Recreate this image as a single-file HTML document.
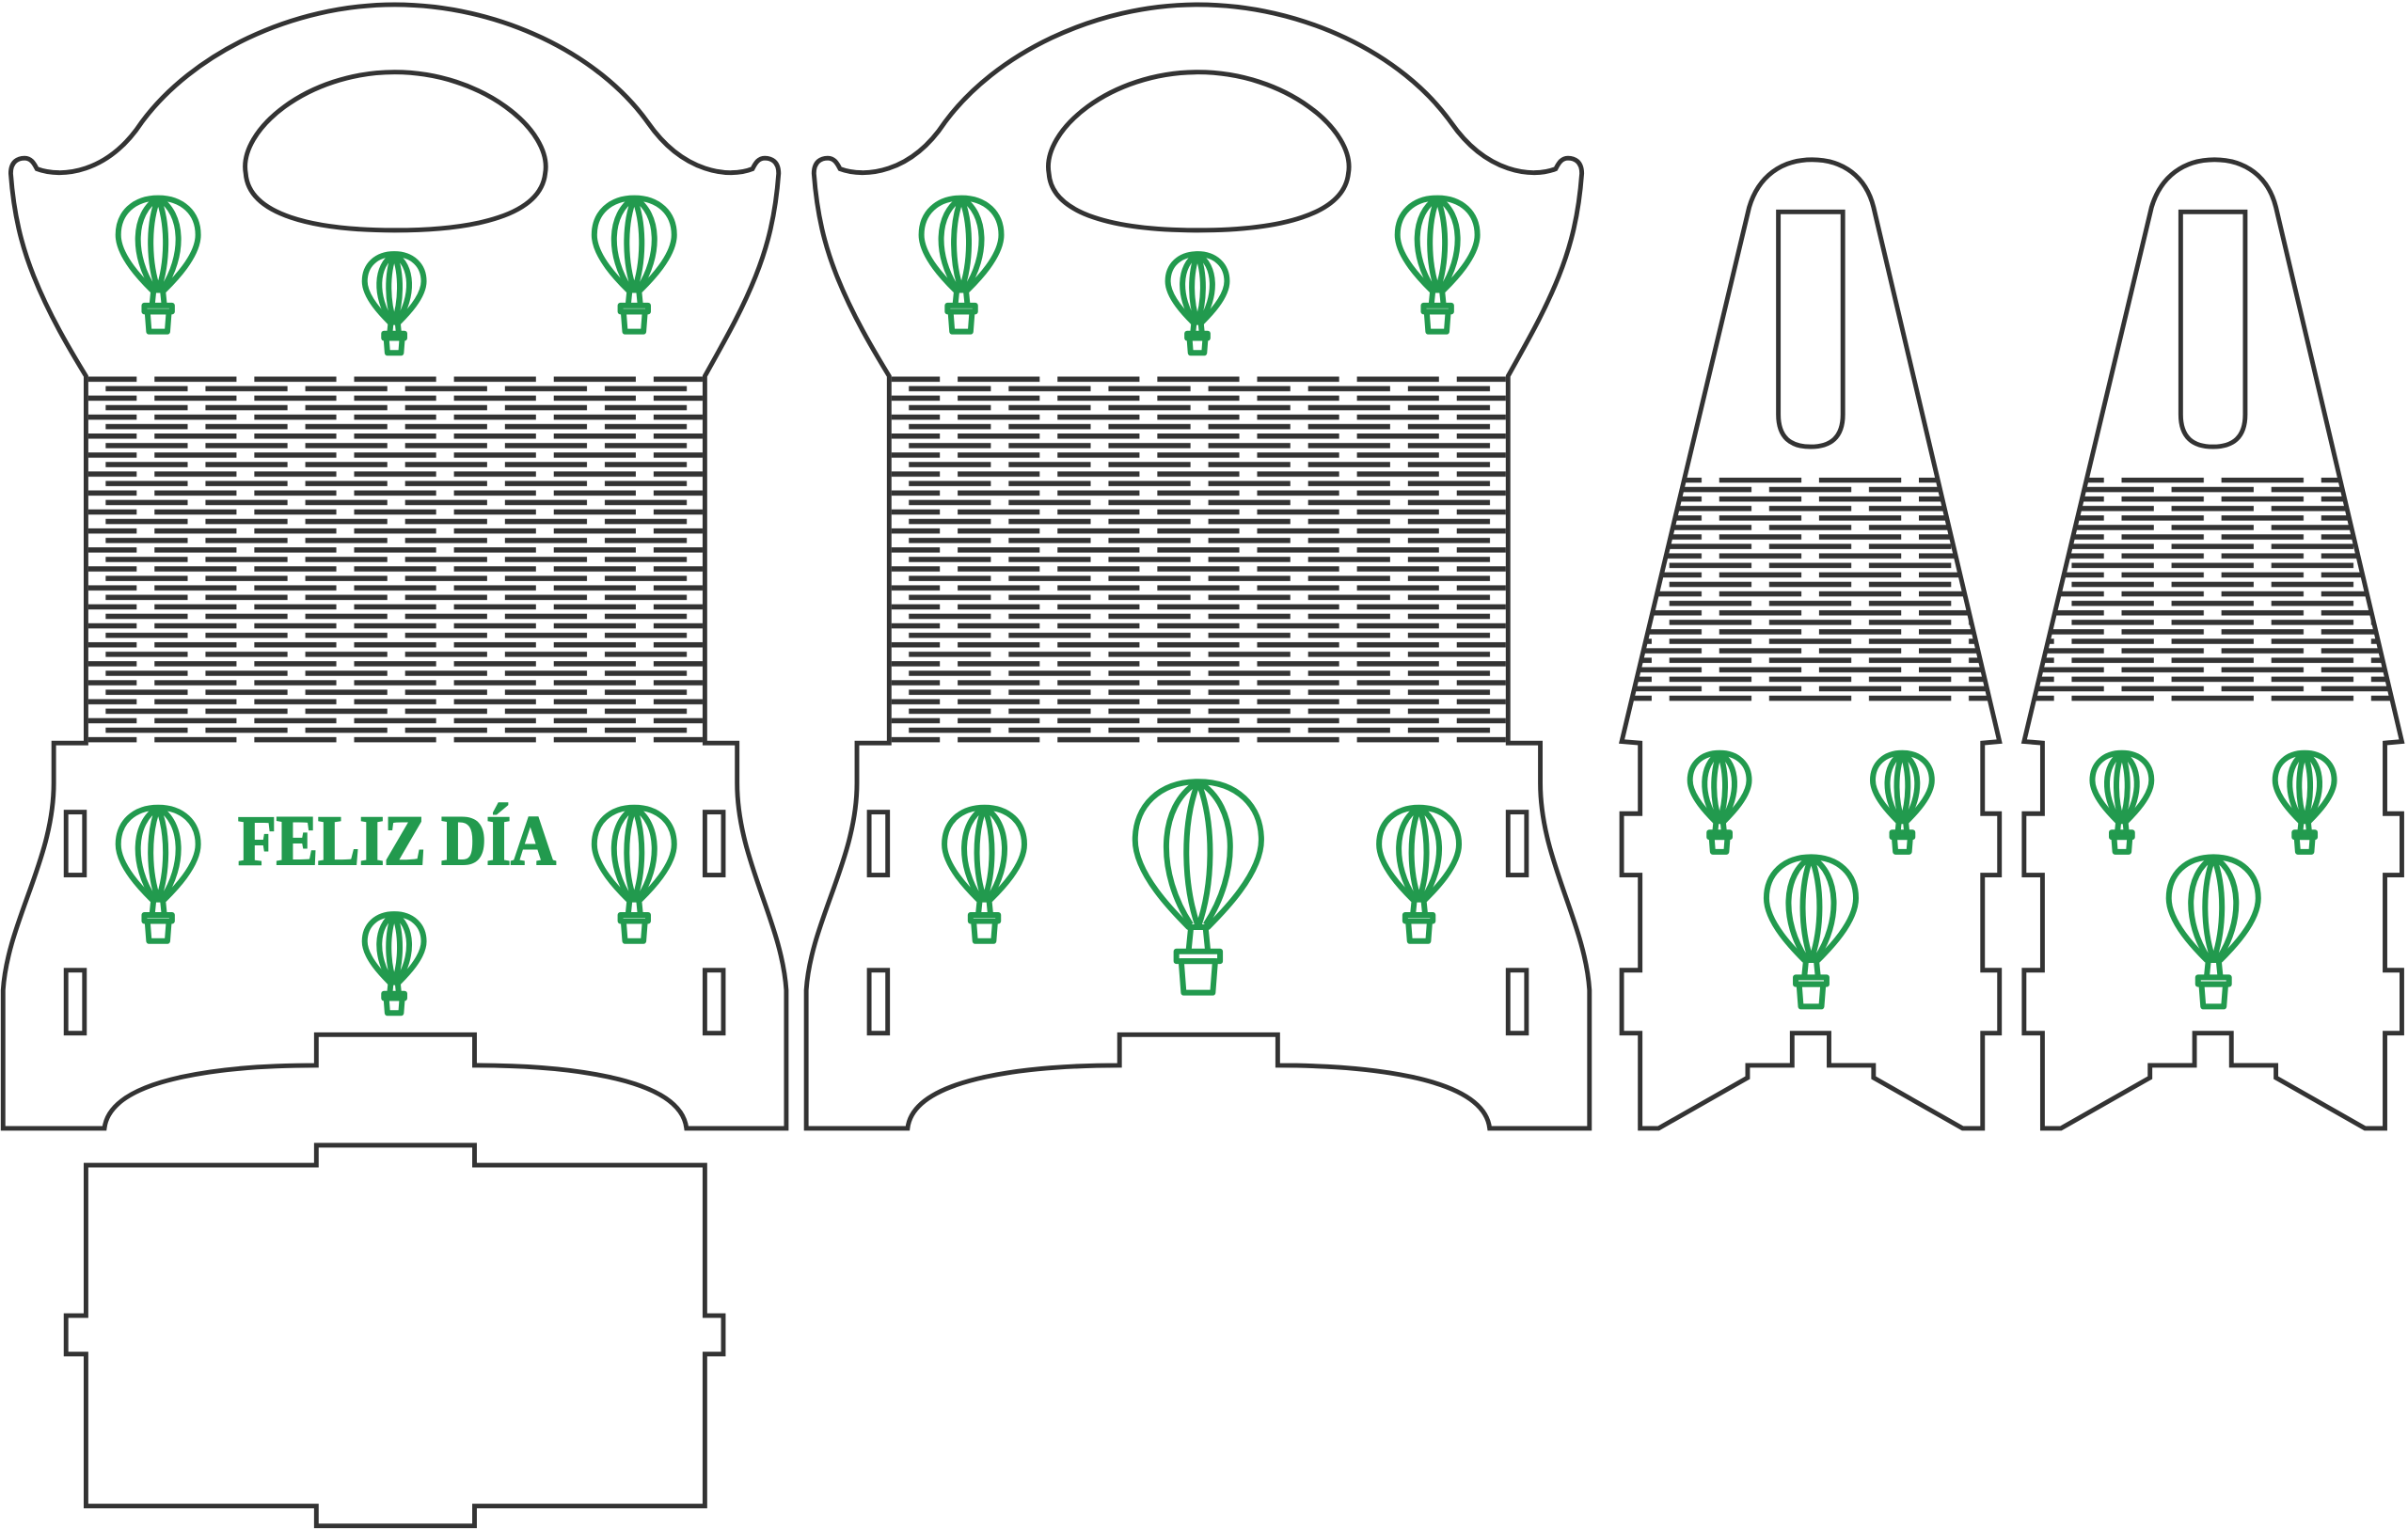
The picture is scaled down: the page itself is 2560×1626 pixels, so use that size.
<!DOCTYPE html>
<html><head><meta charset="utf-8"><style>
html,body{margin:0;padding:0;background:#fff;}
svg{display:block;}
</style></head><body>
<svg width="2560" height="1626" viewBox="0 0 1568 996" preserveAspectRatio="none" xmlns="http://www.w3.org/2000/svg">
<defs>
  <pattern id="sl1" patternUnits="userSpaceOnUse" x="100.6" y="245.3" width="65" height="12.36">
    <rect x="0" y="0" width="53.4" height="3.4" fill="#333"/>
    <rect x="33.2" y="6.18" width="31.8" height="3.4" fill="#333"/>
    <rect x="0" y="6.18" width="21.6" height="3.4" fill="#333"/>
  </pattern>
  <pattern id="sl3" patternUnits="userSpaceOnUse" x="1119.5" y="311" width="65" height="12.36">
    <rect x="0" y="0" width="53.5" height="3.4" fill="#333"/>
    <rect x="32.5" y="6.18" width="32.5" height="3.4" fill="#333"/>
    <rect x="0" y="6.18" width="21" height="3.4" fill="#333"/>
  </pattern>
  <clipPath id="trap"><polygon points="1097,311 1261.5,311 1296,457 1062,457"/></clipPath>
  <g id="bal" fill="none" stroke="#229a4e" stroke-width="6" stroke-linejoin="round">
    <path vector-effect="non-scaling-stroke" d="M28,2 C12,2 2,12 2,26 C2,40 18,56 24,62 L32,62 C38,56 54,40 54,26 C54,12 44,2 28,2 Z"/>
    <path vector-effect="non-scaling-stroke" d="M28,2 C21,20 22,45 28,62 M28,2 C35,20 34,45 28,62 M28,2 C11,12 11,40 25,61 M28,2 C45,12 45,40 31,61"/>
    <path vector-effect="non-scaling-stroke" d="M25,62 L24,72 M31,62 L32,72"/>
    <rect vector-effect="non-scaling-stroke" x="19" y="72" width="18" height="4"/>
    <path vector-effect="non-scaling-stroke" d="M21,76 L35,76 L34,89 L22,89 Z"/>
  </g>
  <g id="bigpanel" fill="none" stroke="#333" stroke-width="3">
    <path d="M2,735 L2,645 C5,600 35,560 35,510 L35,484 L56,484 L56,245 C45,227 32,205 22,180 C14,160 9,140 7,113 C7,105 12,103 16,103 C20,103 22,106 24,110 C40,116 70,113 92,80 C125,35 190,3 257,3 C325,3 390,35 422,80 C445,113 475,116 490,110 C492,106 494,103 498,103 C502,103 507,105 507,113 C505,140 500,160 492,180 C482,205 470,225 459,245 L459,484 L480,484 L480,510 C480,560 509,600 512,645 L512,735 L447,735 C443,700 360,694 309,694 L309,674 L206,674 L206,694 C155,694 72,700 68,735 Z"/>
    <path d="M160,113 C155,85 200,47 257,47 C314,47 360,85 355,113 C352,140 310,150 257,150 C204,150 162,140 160,113 Z"/>
    <rect x="43" y="529" width="12" height="41"/>
    <rect x="43" y="632" width="12" height="41"/>
    <rect x="459" y="529" width="12" height="41"/>
    <rect x="459" y="632" width="12" height="41"/>
    <rect x="57.5" y="245.3" width="400" height="238.7" fill="url(#sl1)" stroke="none"/>
  </g>
  <g id="narrow" fill="none" stroke="#333" stroke-width="3">
    <path d="M1139,135 C1145,115 1160,104 1180,104 C1200,104 1215,115 1220,135 L1302,483 L1291,484 L1291,530 L1302,530 L1302,570 L1291,570 L1291,632 L1302,632 L1302,673 L1291,673 L1291,735 L1278,735 L1220,702 L1220,694 L1191,694 L1191,673 L1167,673 L1167,694 L1138,694 L1138,702 L1080,735 L1068,735 L1068,673 L1056,673 L1056,632 L1068,632 L1068,570 L1056,570 L1056,530 L1068,530 L1068,484 L1056,483 Z"/>
    <path d="M1158,138 L1200,138 L1200,270 C1200,285 1192,291 1179,291 C1166,291 1158,285 1158,270 Z"/>
    <rect x="1050" y="311" width="260" height="146" fill="url(#sl3)" stroke="none" clip-path="url(#trap)"/>
  </g>
</defs>

<rect width="1568" height="996" fill="#fff"/>

<use href="#bigpanel"/>
<use href="#bal" x="75" y="127"/>
<use href="#bal" x="385" y="127"/>
<use href="#bal" transform="translate(236,164) scale(0.74)"/>
<use href="#bal" x="75" y="524"/>
<use href="#bal" x="385" y="524"/>
<use href="#bal" transform="translate(236,594) scale(0.74)"/>
<text x="155" y="563" font-family="Liberation Serif, serif" font-weight="bold" font-size="46" textLength="207" lengthAdjust="spacingAndGlyphs" fill="#229a4e" stroke="#229a4e" stroke-width="1.2">FELIZ DÍA</text>

<g transform="translate(523,0)"><use href="#bigpanel"/></g>
<use href="#bal" x="598" y="127"/>
<use href="#bal" x="908" y="127"/>
<use href="#bal" transform="translate(759,164) scale(0.74)"/>
<use href="#bal" x="613" y="524"/>
<use href="#bal" x="896" y="524"/>
<use href="#bal" transform="translate(736,506) scale(1.58)"/>

<path d="M56,759 L206,759 L206,746 L309,746 L309,759 L459,759 L459,857 L471,857 L471,882 L459,882 L459,981 L309,981 L309,994 L206,994 L206,981 L56,981 L56,882 L43,882 L43,857 L56,857 Z" fill="none" stroke="#333" stroke-width="3"/>

<use href="#narrow"/>
<use href="#bal" transform="translate(1099,489) scale(0.74)"/>
<use href="#bal" transform="translate(1218,489) scale(0.74)"/>
<use href="#bal" transform="translate(1148,556) scale(1.12)"/>

<g transform="translate(262,0)"><use href="#narrow"/></g>
<use href="#bal" transform="translate(1361,489) scale(0.74)"/>
<use href="#bal" transform="translate(1480,489) scale(0.74)"/>
<use href="#bal" transform="translate(1410,556) scale(1.12)"/>
</svg>
</body></html>
